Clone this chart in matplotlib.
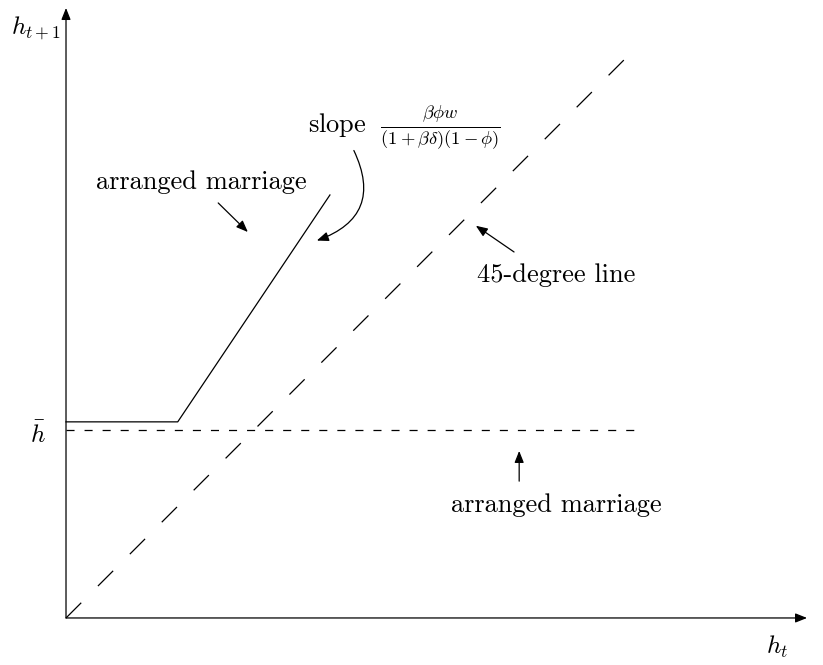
import numpy as np
import matplotlib.pyplot as plt

plt.rcParams['font.family'] = 'serif'
plt.rcParams['font.serif'] = ['cmr10', 'DejaVu Serif']
plt.rcParams['mathtext.fontset'] = 'cm'
plt.rcParams['lines.scale_dashes'] = False

# diagram values (model units)
x_max, y_max = 13.0, 10.7
h_bar = 3.3
line45_x = [0, 10]
line45_y = [0, 10]
arr_x = [0, 1.96, 4.63]
arr_y = [3.44, 3.44, 7.42]
hbar_x = [0, 10]

fig = plt.figure(figsize=(8.23, 6.65), dpi=100)
ax = fig.add_axes([0, 0, 1, 1])
ax.set_xlim(-1.158, 13.28)
ax.set_ylim(-0.825, 10.84)
ax.axis('off')

ap = dict(arrowstyle='-|>,head_length=0.5,head_width=0.2', color='black', lw=0.9,
          mutation_scale=14, shrinkA=0, shrinkB=0)
# axes with arrow heads
ax.annotate('', xy=(x_max, 0), xytext=(0, 0), arrowprops=ap)
ax.annotate('', xy=(0, y_max), xytext=(0, 0), arrowprops=ap)

ax.plot(line45_x, line45_y, color='black', lw=0.9, dashes=(15.5, 17))
ax.plot(hbar_x, [h_bar, h_bar], color='black', lw=0.9, dashes=(5.8, 7.2))
ax.plot(arr_x, arr_y, color='black', lw=0.9)

fs = 19
ax.text(-0.52, 10.35, r'$h_{t+1}$', fontsize=18, ha='center', va='center')
ax.text(-0.5, 3.22, r'$\bar{h}$', fontsize=18, ha='center', va='center')
ax.text(12.47, -0.5, r'$h_t$', fontsize=18, ha='center', va='center')

ax.text(2.37, 7.64, 'arranged marriage', fontsize=fs, ha='center', va='center')
ax.annotate('', xy=(3.19, 6.77), xytext=(2.67, 7.28), arrowprops=ap)

ax.text(8.61, 1.98, 'arranged marriage', fontsize=fs, ha='center', va='center')
ax.annotate('', xy=(7.95, 2.93), xytext=(7.95, 2.4), arrowprops=ap)

ax.text(8.6, 6.02, '45-degree line', fontsize=fs, ha='center', va='center')
ax.annotate('', xy=(7.19, 6.88), xytext=(7.86, 6.42), arrowprops=ap)

ax.text(4.25, 8.6, r'slope $\;\frac{\beta\phi w}{(1+\beta\delta)(1-\phi)}$',
        fontsize=fs, ha='left', va='center')
ax.annotate('', xy=(4.4, 6.62), xytext=(5.05, 8.2),
            arrowprops=dict(ap, connectionstyle='arc3,rad=-0.55'))

fig.savefig('out.png', dpi=100)
